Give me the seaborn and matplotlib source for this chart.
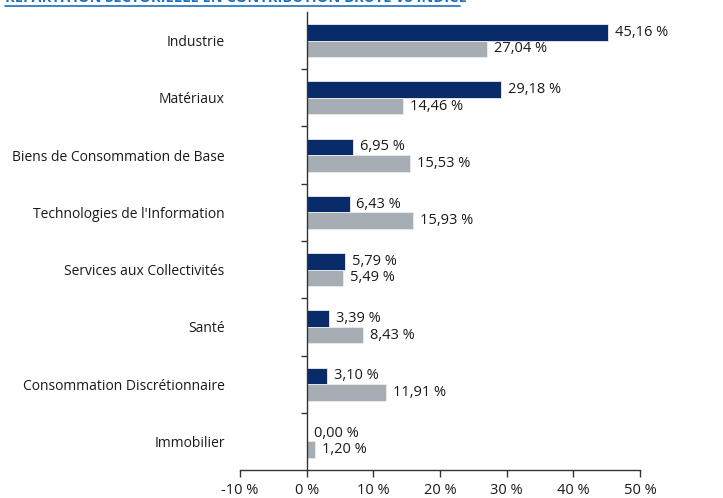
import matplotlib
matplotlib.use("Agg")
import matplotlib.pyplot as plt
import seaborn as sns
import pandas as pd
from matplotlib.ticker import FixedLocator

categories = ["Industrie", "Matériaux", "Biens de Consommation de Base",
              "Technologies de l'Information", "Services aux Collectivités",
              "Santé", "Consommation Discrétionnaire", "Immobilier"]
fonds = [45.16, 29.18, 6.95, 6.43, 5.79, 3.39, 3.10, 0.00]
indice = [27.04, 14.46, 15.53, 15.93, 5.49, 8.43, 11.91, 1.20]
series_names = ["Fonds", "Indice"]
x_ticks = [-10, 0, 10, 20, 30, 40, 50]
title = "RÉPARTITION SECTORIELLE EN CONTRIBUTION BRUTE VS INDICE"

df = pd.DataFrame({
    "Secteur": categories * 2,
    "Valeur": fonds + indice,
    "Série": [series_names[0]] * len(categories) + [series_names[1]] * len(categories),
})

sns.set_theme(style="white")
plt.rcParams["font.family"] = ["Open Sans", "DejaVu Sans"]

fig = plt.figure(figsize=(7.23, 4.98), dpi=100)
ax = fig.add_axes([240 / 723, 1 - 470 / 498, 400 / 723, (470 - 12) / 498])

colors = ["#0a2b69", "#a6adb3"]
sns.barplot(data=df, y="Secteur", x="Valeur", hue="Série", orient="h",
            palette=colors, width=0.58, legend=False, ax=ax,
            order=categories, hue_order=series_names, saturation=1,
            edgecolor="#e8ecf2", linewidth=0.6)

def fmt(v):
    return f"{v:.2f}".replace(".", ",") + " %"

for cont in ax.containers:
    ax.bar_label(cont, labels=[fmt(b.get_width()) for b in cont], padding=5,
                 fontsize=10.5, color="#1a1a1a")

ax.set_xlim(-10, 50)
ax.set_ylim(len(categories) - 0.5, -0.5)
ax.set_xticks(x_ticks)
ax.set_xticklabels([f"{t} %" for t in x_ticks], fontsize=10.5, color="#1a1a1a")
ax.set_xlabel("")
ax.set_ylabel("")

for s in ["top", "right"]:
    ax.spines[s].set_visible(False)
ax.spines["left"].set_position(("data", 0))
ax.spines["left"].set_color("#333333")
ax.spines["bottom"].set_color("#333333")
ax.spines["left"].set_linewidth(1.0)
ax.spines["bottom"].set_linewidth(1.0)

ax.tick_params(axis="y", which="major", length=0, pad=59, labelsize=10, labelcolor="#1a1a1a")
ax.yaxis.set_minor_locator(FixedLocator([i + 0.5 for i in range(len(categories) - 1)]))
ax.tick_params(axis="y", which="minor", left=True, length=4, width=1, color="#333333")
ax.tick_params(axis="x", which="major", bottom=True, length=5, width=1, color="#333333", pad=4)

fig.text(5 / 723, 1 - 2.2 / 498, title, fontsize=10.5, fontweight="bold",
         color="#1f6fb8", va="baseline", ha="left")
fig.add_artist(plt.Line2D([5 / 723, 460 / 723], [1 - 6 / 498, 1 - 6 / 498],
                          color="#1f6fb8", lw=1.2, transform=fig.transFigure))

fig.savefig("out.png", dpi=100)
